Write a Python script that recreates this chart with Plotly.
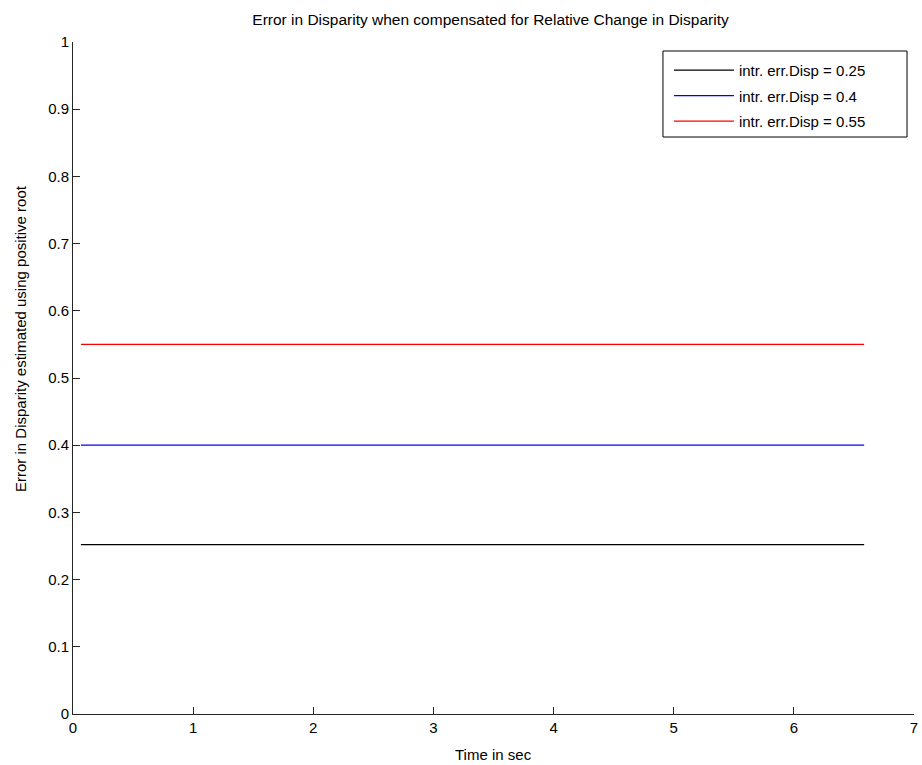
import plotly.graph_objects as go

time_sec = [0.066, 6.585]
err_025 = [0.252, 0.252]
err_04 = [0.4, 0.4]
err_055 = [0.55, 0.55]
series_names = ["intr. err.Disp = 0.25", "intr. err.Disp = 0.4", "intr. err.Disp = 0.55"]
series_colors = ["#000000", "#0000ff", "#ff0000"]
x_ticks = [0, 1, 2, 3, 4, 5, 6, 7]
y_ticks = [0, 0.1, 0.2, 0.3, 0.4, 0.5, 0.6, 0.7, 0.8, 0.9, 1]
x_title = "Time in sec"
y_title = "Error in Disparity estimated using positive root"
main_title = "Error in Disparity when compensated for Relative Change in Disparity"

fig = go.Figure()
for i, (ys, name, col) in enumerate(zip([err_025, err_04, err_055], series_names, series_colors)):
    fig.add_trace(go.Scatter(x=time_sec, y=ys, mode="lines", name=name,
                             legendgroup="g%d" % i,
                             line=dict(color=col, width=1.3)))

font = "Liberation Sans, Arial, sans-serif"
fig.update_layout(
    width=922, height=765,
    margin=dict(l=73, r=8, t=42, b=51, autoexpand=False),
    paper_bgcolor="white", plot_bgcolor="white",
    font=dict(family=font, size=15, color="#000000"),
    title=dict(text=main_title,
               x=0.532, xanchor="center", y=0.974, yanchor="middle",
               font=dict(size=15.5, family=font, color="#000000")),
    showlegend=True,
    legend=dict(x=0.7086, xanchor="left", y=0.9823, yanchor="top",
                bgcolor="rgba(0,0,0,0)", borderwidth=0,
                font=dict(size=15, family=font, color="#000000"),
                tracegroupgap=3, itemwidth=60),
    shapes=[dict(type="rect", xref="paper", yref="paper",
                 x0=0.7015, x1=0.9917, y0=0.8586, y1=0.9866,
                 line=dict(color="#000000", width=1), fillcolor="white", layer="below")],
    xaxis=dict(range=[0, 7], tickvals=x_ticks, ticktext=[str(v) for v in x_ticks],
               showgrid=False, zeroline=False, showline=True, linecolor="#262626",
               linewidth=1, ticks="inside", ticklen=7, tickcolor="#262626",
               mirror=False, automargin=False,
               tickfont=dict(size=15)),
    yaxis=dict(range=[0, 1], tickvals=y_ticks, ticktext=[("%g" % v) for v in y_ticks],
               showgrid=False, zeroline=False, showline=True, linecolor="#262626",
               linewidth=1, ticks="inside", ticklen=7, tickcolor="#262626",
               mirror=False, automargin=False,
               tickfont=dict(size=15)),
    annotations=[
        dict(text=x_title, xref="paper", yref="paper", x=0.5, y=-0.0610,
             xanchor="center", yanchor="middle", showarrow=False,
             font=dict(size=15, family=font, color="#000000")),
        dict(text=y_title, xref="paper", yref="paper", x=-0.063, y=0.558,
             xanchor="center", yanchor="middle", showarrow=False, textangle=-90,
             font=dict(size=15, family=font, color="#000000")),
    ],
)
fig.write_html("out.html")
